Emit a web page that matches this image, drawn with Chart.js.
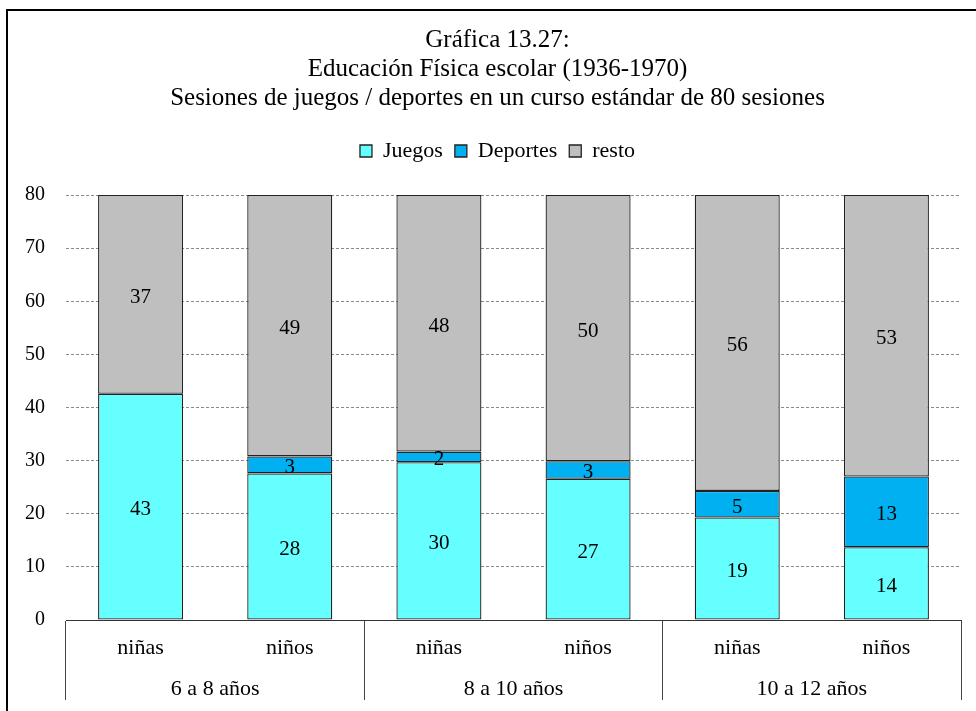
<!DOCTYPE html>
<html>
<head>
<meta charset="utf-8">
<script src="https://cdn.jsdelivr.net/npm/chart.js@4/dist/chart.umd.min.js"></script>
<style>
  html, body { margin: 0; padding: 0; background: #fff; overflow: hidden; }
  #wrap { width: 976px; height: 711px; position: relative; }
</style>
</head>
<body>
<div id="wrap"><canvas id="c" width="976" height="711"></canvas></div>
<script>
// ---- data ----
const categories = ['niñas', 'niños', 'niñas', 'niños', 'niñas', 'niños'];
const groups = ['6 a 8 años', '8 a 10 años', '10 a 12 años'];
const juegos   = [42.6, 27.6, 29.7, 26.6, 19.3, 13.7];
const deportes = [0,    3.2,  2.0,  3.3,  5.0,  13.3];
const resto    = [37.4, 49.2, 48.3, 50.1, 55.7, 53.0];
const yTicks = [0, 10, 20, 30, 40, 50, 60, 70, 80];
const titleLines = [
  'Gráfica 13.27:',
  'Educación Física escolar (1936-1970)',
  'Sesiones de juegos / deportes en un curso estándar de 80 sesiones'
];

const FONT = "'Liberation Serif', 'Times New Roman', serif";

const frame = {
  id: 'frame',
  beforeDraw(chart) {
    const ctx = chart.ctx;
    ctx.save();
    ctx.fillStyle = '#fff';
    ctx.fillRect(0, 0, chart.width, chart.height);
    ctx.strokeStyle = '#000';
    ctx.lineWidth = 2;
    ctx.beginPath();
    ctx.moveTo(7, chart.height + 2);
    ctx.lineTo(7, 10);
    ctx.lineTo(chart.width + 2, 10);
    ctx.stroke();
    ctx.restore();
  }
};

const valueLabels = {
  id: 'valueLabels',
  afterDatasetsDraw(chart) {
    const ctx = chart.ctx;
    ctx.save();
    ctx.font = '21px ' + FONT;
    ctx.fillStyle = '#000';
    ctx.textAlign = 'center';
    ctx.textBaseline = 'middle';
    chart.data.datasets.forEach((ds, i) => {
      const meta = chart.getDatasetMeta(i);
      meta.data.forEach((bar, j) => {
        const v = ds.data[j];
        if (!v) return;
        ctx.fillText(String(Math.round(v)), bar.x, (bar.y + bar.base) / 2 + 3);
      });
    });
    ctx.restore();
  }
};

const groupLine = ctx => (ctx.index === undefined || ctx.index % 2 === 0) ? '#444' : 'rgba(0,0,0,0)';

new Chart(document.getElementById('c'), {
  type: 'bar',
  data: {
    labels: categories,
    datasets: [
      { label: 'Juegos', data: juegos, backgroundColor: '#66FFFF', borderColor: '#222', borderWidth: 1.3, borderSkipped: false },
      { label: 'Deportes', data: deportes, backgroundColor: '#00B0F0', borderColor: '#222', borderWidth: 1.3, borderSkipped: false },
      { label: 'resto', data: resto, backgroundColor: '#BFBFBF', borderColor: '#222', borderWidth: 1.3, borderSkipped: false }
    ]
  },
  options: {
    responsive: false,
    animation: false,
    events: [],
    layout: { padding: { left: 19, right: 0, top: 0, bottom: 0 } },
    datasets: { bar: { categoryPercentage: 1, barPercentage: 0.57 } },
    plugins: {
      tooltip: { enabled: false },
      title: {
        display: true,
        text: titleLines,
        color: '#000',
        font: { family: FONT, size: 25, weight: 'normal', lineHeight: 29 / 25 },
        padding: { top: 26, bottom: 15 }
      },
      subtitle: {
        display: true,
        text: '',
        weight: 500,
        font: { size: 1, lineHeight: 1 },
        padding: { top: 0, bottom: 22 }
      },
      legend: {
        display: true,
        position: 'top',
        labels: {
          color: '#000',
          font: { family: FONT, size: 22 },
          boxWidth: 12,
          boxHeight: 12,
          padding: 12
        }
      }
    },
    scales: {
      x: {
        stacked: true,
        weight: 0,
        offset: true,
        grid: { offset: true, drawOnChartArea: false, tickLength: 80, color: groupLine, tickColor: groupLine, lineWidth: 1 },
        border: { display: true, color: '#333', width: 1 },
        ticks: { color: '#000', font: { family: FONT, size: 22 }, padding: -65, maxRotation: 0, autoSkip: false },
        afterFit(s) { s.height = 40; }
      },
      x2: {
        type: 'category',
        labels: groups,
        position: 'bottom',
        weight: 1,
        offset: true,
        grid: { display: false },
        border: { display: false },
        ticks: { color: '#000', font: { family: FONT, size: 22 }, padding: 8, maxRotation: 0, autoSkip: false },
        afterFit(s) { s.height = 51; }
      },
      y: {
        stacked: true,
        min: 0,
        max: 80,
        afterBuildTicks(s) { s.ticks = yTicks.map(v => ({ value: v })); },
        grid: { color: '#8a8a8a', lineWidth: 1, drawTicks: false },
        border: { display: false, dash: [3, 2] },
        ticks: { color: '#000', font: { family: FONT, size: 20 }, padding: 21 },
        afterFit(s) { s.width = 47; }
      },
      yRight: {
        type: 'linear',
        position: 'right',
        display: true,
        grid: { display: false },
        border: { display: false },
        ticks: { display: false },
        afterFit(s) { s.width = 15; }
      }
    }
  },
  plugins: [frame, valueLabels]
});
</script>
</body>
</html>
